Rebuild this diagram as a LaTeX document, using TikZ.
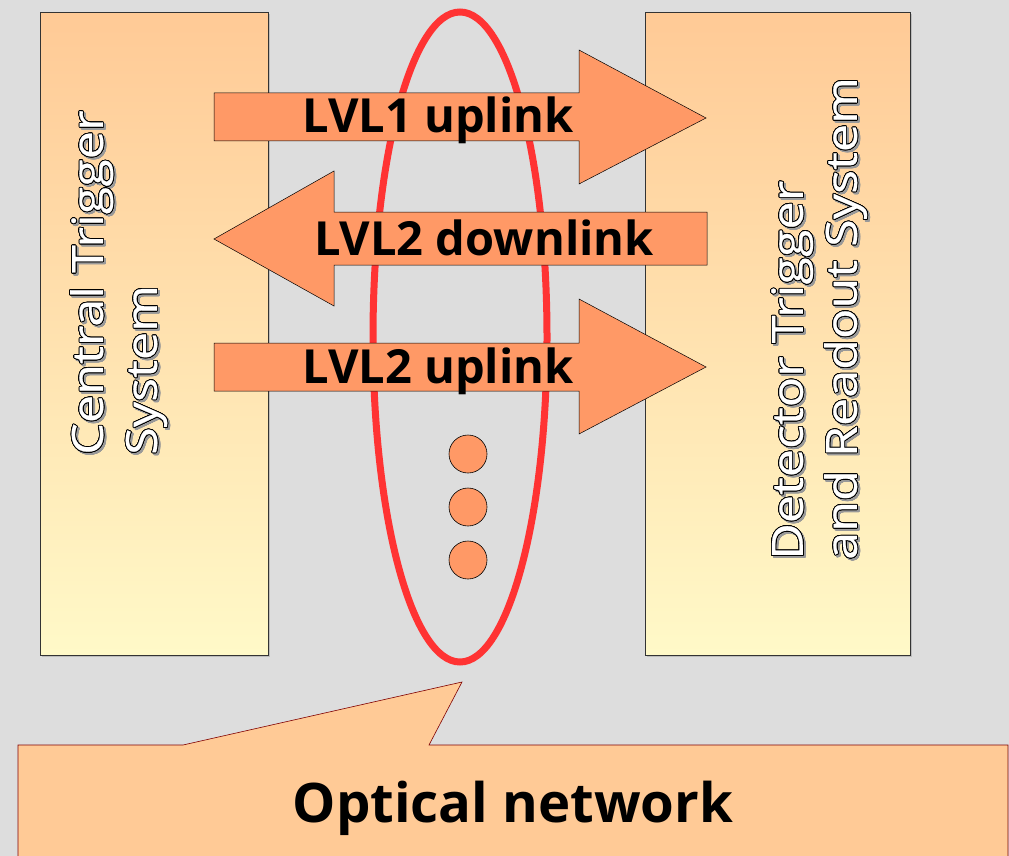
\documentclass[tikz,border=0pt]{standalone}
\usepackage{fontspec}
\setmainfont{Open Sans}
\newfontfamily\widefont[FakeStretch=1.17,FakeBold=0.6]{Open Sans}
\usepackage[copies]{contour}
\contourlength{0.9pt}
\contournumber{16}
\usetikzlibrary{shapes.geometric,shadows}

\definecolor{bggray}{HTML}{DDDDDD}
\definecolor{peachtop}{HTML}{FFCA96}
\definecolor{lightyel}{HTML}{FFF9C8}
\definecolor{arrowfill}{HTML}{FF9966}
\definecolor{ringred}{HTML}{FF3333}
\definecolor{callfill}{HTML}{FFCA96}
\definecolor{callline}{HTML}{800000}

% white lettering with black outline and a grey shadow
\newcommand{\embossed}[1]{\makebox[0pt][l]{\hspace{-2pt}\raisebox{-2pt}{\contour{black!40}{\textcolor{black!40}{#1}}}}\contour{black}{#1}}

\begin{document}
\begin{tikzpicture}[
  x=1pt, y=-1pt,
  sysbox/.style={draw=black!80, line width=0.6pt, top color=peachtop, bottom color=lightyel,
    minimum width=#1, minimum height=643pt, anchor=north west, inner sep=0pt,
    drop shadow={shadow xshift=1.5pt, shadow yshift=-1.5pt, opacity=0.35}},
  systext/.style={rotate=90, align=left, text=white, inner sep=0pt, anchor=north west,
    font=\widefont\fontsize{43}{54}\selectfont},
  ring/.style={ellipse, draw=ringred, line width=7pt, minimum width=174pt, minimum height=650pt, inner sep=0pt},
  bigarrow/.style={fill=arrowfill, draw=black, line width=0.5pt},
  arrowtext/.style={anchor=base, inner sep=0pt, font=\fontsize{47}{54}\bfseries\selectfont},
  dot/.style={circle, fill=arrowfill, draw=black, line width=0.6pt, minimum size=38pt, inner sep=0pt},
  callout/.style={fill=callfill, draw=callline, line width=0.6pt}
]
  \useasboundingbox (0,0) rectangle (1009,856);
  \fill[bggray] (0,0) rectangle (1009,856);

  % the two systems
  \node[sysbox=228pt] (cts) at (40,12) {};
  \node[sysbox=265pt] (dtrs) at (645,12) {};
  \node[systext] (ctstext) at (70,455) {\embossed{Central Trigger}\\\embossed{System}};
  \node[systext] (dtrstext) at (771,560) {\embossed{Detector Trigger}\\\embossed{and Readout System}};

  % optical links
  \node[ring] (ring) at (460,337) {};

  \draw[bigarrow] (214,93) -- (579,93) -- (579,50) -- (706,118) -- (579,184) -- (579,141) -- (214,141) -- cycle;
  \node[arrowtext] (lvl1up) at (438,133) {LVL1 uplink};
  \draw[bigarrow] (707,212) -- (334,212) -- (334,171) -- (214,239) -- (334,306) -- (334,265) -- (707,265) -- cycle;
  \node[arrowtext] (lvl2down) at (484,255) {LVL2 downlink};
  \draw[bigarrow] (214,343) -- (579,343) -- (579,299) -- (706,367) -- (579,434) -- (579,391) -- (214,391) -- cycle;
  \node[arrowtext] (lvl2up) at (438,383) {LVL2 uplink};

  \node[dot] (dot1) at (468,454) {};
  \node[dot] (dot2) at (468,507) {};
  \node[dot] (dot3) at (468,560) {};

  % callout
  \coordinate (tip) at (462,682);
  \draw[callout] (18,745) -- (183,745) -- (tip) -- (429,745) -- (1008,745) -- (1008,862) -- (18,862) -- cycle;
  \node[anchor=base, inner sep=0pt, font=\fontsize{54.5}{60}\bfseries\selectfont] (optnet) at (513,822) {Optical network};
\end{tikzpicture}
\end{document}
